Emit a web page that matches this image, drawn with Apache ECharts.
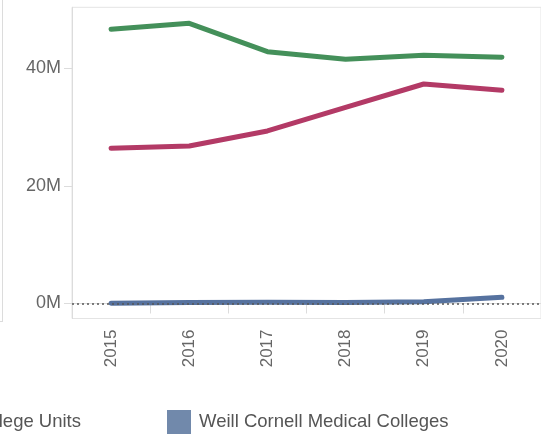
<!DOCTYPE html>
<html>
<head>
<meta charset="utf-8">
<script src="https://cdn.jsdelivr.net/npm/echarts@6/dist/echarts.min.js"></script>
<style>
html,body{margin:0;padding:0;background:#fff;}
#c{width:541px;height:434px;}
</style>
</head>
<body>
<div id="c"></div>
<script>
const years = ['2015', '2016', '2017', '2018', '2019', '2020'];
const endowedM = [46.63, 47.65, 42.82, 41.53, 42.21, 41.87];
const contractM = [26.39, 26.79, 29.34, 33.37, 37.33, 36.26];
const weillM = [0.05, 0.15, 0.2, 0.15, 0.3, 1.05];
const yTicksM = [0, 20, 40];
const seriesNames = ['Endowed Ithaca', 'Contract College Units', 'Weill Cornell Medical Colleges'];

const toVal = a => a.map(v => v * 1e6);
const FONT = '"Liberation Sans", Arial, sans-serif';

const chart = echarts.init(document.getElementById('c'), null, {renderer: 'canvas'});
chart.setOption({
  animation: false,
  backgroundColor: '#fff',
  grid: {left: 72, right: -3, top: 7.3, bottom: 115.5, show: true, borderColor: '#e4e4e4', borderWidth: 1, containLabel: false},
  xAxis: {
    type: 'category', data: years, boundaryGap: true,
    axisLine: {show: true, lineStyle: {color: '#dcdcdc', width: 1}},
    axisTick: {show: true, length: 10, lineStyle: {color: '#dcdcdc'}},
    axisLabel: {rotate: 90, margin: 11, fontSize: 17, color: '#666', fontFamily: FONT},
    splitLine: {show: false}
  },
  yAxis: {
    type: 'value', min: -2.55e6, max: 50.37e6,
    axisLine: {show: true, lineStyle: {color: '#dcdcdc', width: 1}},
    axisTick: {show: true, length: 8, lineStyle: {color: '#dcdcdc'}, customValues: yTicksM.map(v => v * 1e6)},
    axisLabel: {margin: 11, fontSize: 18, color: '#666', fontFamily: FONT,
      customValues: yTicksM.map(v => v * 1e6),
      formatter: v => Math.round(v / 1e6) + 'M'},
    splitLine: {show: false}
  },
  legend: [
    {
      data: [{name: seriesNames[1], itemStyle: {color: '#c0597f'}}],
      right: 460, top: 410, padding: 0, itemWidth: 24, itemHeight: 24, icon: 'rect',
      textStyle: {fontSize: 18.5, color: '#555', fontFamily: FONT, padding: [0, 0, 0, 3]}
    },
    {
      data: [{name: seriesNames[2], itemStyle: {color: '#7189ab'}}],
      left: 167, top: 410, padding: 0, itemWidth: 24, itemHeight: 24, icon: 'rect',
      textStyle: {fontSize: 18.5, color: '#555', fontFamily: FONT, padding: [0, 0, 0, 3]}
    }
  ],
  series: [
    {name: seriesNames[0], type: 'line', data: toVal(endowedM), showSymbol: false, color: '#44905a',
      lineStyle: {width: 5, cap: 'round', join: 'round'}, z: 3},
    {name: seriesNames[1], type: 'line', data: toVal(contractM), showSymbol: false, color: '#b33a66',
      lineStyle: {width: 5, cap: 'round', join: 'round'}, z: 3},
    {name: seriesNames[2], type: 'line', data: toVal(weillM), showSymbol: false, color: '#56729f',
      lineStyle: {width: 5, cap: 'round', join: 'round'}, z: 4,
      markLine: {silent: true, symbol: ['none', 'none'], label: {show: false},
        lineStyle: {type: [2, 3], color: '#555', width: 1.5},
        data: [{yAxis: 0}]}}
  ],
  graphic: [
    {type: 'line', shape: {x1: 2.5, y1: 0, x2: 2.5, y2: 322}, style: {stroke: '#dcdcdc', lineWidth: 1}, silent: true},
    {type: 'line', shape: {x1: 0, y1: 321.5, x2: 3, y2: 321.5}, style: {stroke: '#dcdcdc', lineWidth: 1}, silent: true}
  ]
});
</script>
</body>
</html>
